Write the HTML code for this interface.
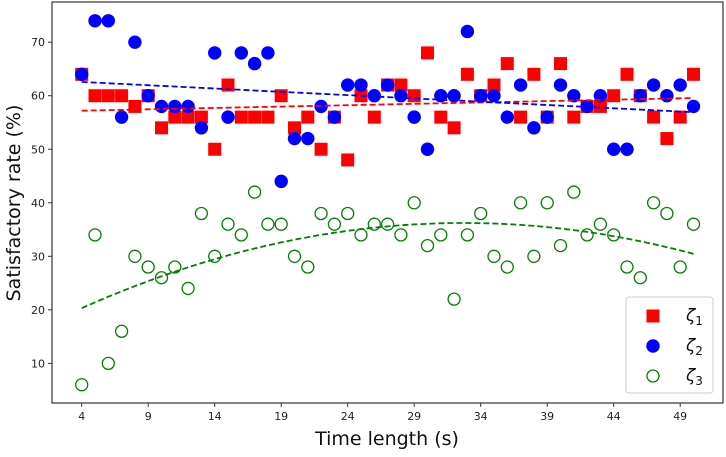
<!DOCTYPE html>
<html><head><meta charset="utf-8"><style>
body{margin:0;background:#fff;}
svg text{font-family:"DejaVu Sans","Liberation Sans",sans-serif;}
</style></head><body>
<svg id="chart" width="726" height="452">
</svg>
<script>
const xs=[4,5,6,7,8,9,10,11,12,13,14,15,16,17,18,19,20,21,22,23,24,25,26,27,28,29,30,31,32,33,34,35,36,37,38,39,40,41,42,43,44,45,46,47,48,49,50];
const zeta1=[64,60,60,60,58,60,54,56,56,56,50,62,56,56,56,60,54,56,50,56,48,60,56,62,62,60,68,56,54,64,60,62,66,56,64,56,66,56,58,58,60,64,60,56,52,56,64];
const zeta2=[64,74,74,56,70,60,58,58,58,54,68,56,68,66,68,44,52,52,58,56,62,62,60,62,60,56,50,60,60,72,60,60,56,62,54,56,62,60,58,60,50,50,60,62,60,62,58];
const zeta3=[6,34,10,16,30,28,26,28,24,38,30,36,34,42,36,36,30,28,38,36,38,34,36,36,34,40,32,34,22,34,38,30,28,40,30,40,32,42,34,36,34,28,26,40,38,28,36];
const xTicks=[4,9,14,19,24,29,34,39,44,49];
const yTicks=[10,20,30,40,50,60,70];
const L=52,R=723,T=2,B=403;
const X=v=>81.7+(v-4)*13.3;
const Y=v=>416.9-v*5.353;
const NS="http://www.w3.org/2000/svg";
const svg=document.getElementById('chart');
function mk(tag,attrs,parent){const e=document.createElementNS(NS,tag);for(const k in attrs)e.setAttribute(k,attrs[k]);(parent||svg).appendChild(e);return e;}
const frame=mk('rect',{x:L,y:T,width:R-L,height:B-T,fill:'none',stroke:'#333','stroke-width':1.2});


xTicks.forEach(t=>{
  const l=mk('line',{x1:X(t),x2:X(t),y1:B,y2:B+4,stroke:'#333'});
  
  
  const tx=mk('text',{x:X(t),y:B+17,'text-anchor':'middle','font-size':11,fill:'#222'});
  tx.textContent=t;
  
  
});
yTicks.forEach(t=>{
  const l=mk('line',{x1:L-4,x2:L,y1:Y(t),y2:Y(t),stroke:'#333'});
  
  
  const tx=mk('text',{x:L-7,y:Y(t)+4,'text-anchor':'end','font-size':11,fill:'#222'});
  tx.textContent=t;
  
  
});
const xl=mk('text',{x:387,y:445,'text-anchor':'middle','font-size':19,fill:'#111'});
xl.textContent='Time length (s)';


const yl=mk('text',{x:0,y:0,'text-anchor':'middle','font-size':19,fill:'#111',transform:'translate(20,203) rotate(-90)'});
yl.textContent='Satisfactory rate (%)';



// fits
function linfit(x,y){const n=x.length;let sx=0,sy=0,sxx=0,sxy=0;for(let i=0;i<n;i++){sx+=x[i];sy+=y[i];sxx+=x[i]*x[i];sxy+=x[i]*y[i];}const b=(n*sxy-sx*sy)/(n*sxx-sx*sx);return [ (sy-b*sx)/n,b];}
function quadfit(x,y){let S=[0,0,0,0,0],Sy=[0,0,0];for(let i=0;i<x.length;i++){let p=1;for(let k=0;k<5;k++){S[k]+=p;if(k<3)Sy[k]+=p*y[i];p*=x[i];}}
 const A=[[S[0],S[1],S[2],Sy[0]],[S[1],S[2],S[3],Sy[1]],[S[2],S[3],S[4],Sy[2]]];
 for(let i=0;i<3;i++){for(let j=i+1;j<3;j++){const f=A[j][i]/A[i][i];for(let k=i;k<4;k++)A[j][k]-=f*A[i][k];}}
 const c=[0,0,0];for(let i=2;i>=0;i--){let s=A[i][3];for(let k=i+1;k<3;k++)s-=A[i][k]*c[k];c[i]=s/A[i][i];}return c;}
function fitPath(f,color,name){let d='';for(let v=4;v<=50.001;v+=0.5){d+=(d?'L':'M')+X(v).toFixed(1)+','+Y(f(v)).toFixed(1);}
 const p=mk('path',{d:d,fill:'none',stroke:color,'stroke-width':1.8,'stroke-dasharray':'6,3'});
 
 }

const g1=mk('g',{});


xs.forEach((x,i)=>{const r=mk('rect',{x:X(x)-6.5,y:Y(zeta1[i])-6.5,width:13,height:13,fill:'#ff0000'},g1);
 
 });
const g2=mk('g',{});


xs.forEach((x,i)=>{const c=mk('circle',{cx:X(x),cy:Y(zeta2[i]),r:6.7,fill:'#0000ff'},g2);
 
 });
const g3=mk('g',{});


xs.forEach((x,i)=>{const c=mk('circle',{cx:X(x),cy:Y(zeta3[i]),r:6,fill:'none',stroke:'#008000','stroke-width':1.3},g3);
 
 });

const f1=linfit(xs,zeta1), f2=linfit(xs,zeta2), f3=quadfit(xs,zeta3);
fitPath(v=>f1[0]+f1[1]*v,'#ff0000','zeta1-trend-line');
fitPath(v=>f2[0]+f2[1]*v,'#0000ff','zeta2-trend-line');
fitPath(v=>f3[0]+f3[1]*v+f3[2]*v*v,'#008000','zeta3-trend-line');

// legend
const lg=mk('g',{});


mk('rect',{x:626,y:297,width:87,height:96,rx:3,fill:'#fff','fill-opacity':0.85,stroke:'#ccc'},lg);
const entries=[['1','sq','#ff0000'],['2','ci','#0000ff'],['3','oc','#008000']];
entries.forEach((e,i)=>{const cy=316+i*30;
 if(e[1]=='sq')mk('rect',{x:646.5,y:cy-6.5,width:13,height:13,fill:e[2]},lg);
 else if(e[1]=='ci')mk('circle',{cx:653,cy:cy,r:6.7,fill:e[2]},lg);
 else mk('circle',{cx:653,cy:cy,r:6,fill:'none',stroke:e[2],'stroke-width':1.3},lg);
 const t=mk('text',{x:686,y:cy+5,'font-size':17,fill:'#111','font-family':'"DejaVu Serif",serif','font-style':'italic'},lg);
 t.textContent='ζ';
 const s=mk('tspan',{'font-size':12,dy:4,'font-style':'normal'},t);s.textContent=e[0];
 
 
});
</script>
</body></html>
